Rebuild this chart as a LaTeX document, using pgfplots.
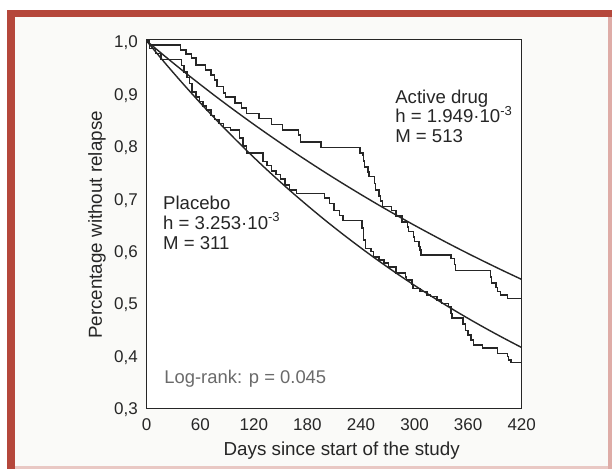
\documentclass[border=0pt]{standalone}
\usepackage{pgfplots}
\pgfplotsset{compat=1.18}
\usepackage{fontspec}
\setmainfont{Liberation Sans}
\definecolor{frame}{HTML}{B5473B}
\definecolor{bg}{HTML}{FAFAF8}
\definecolor{ink}{HTML}{262626}
\definecolor{note}{HTML}{6A6A6A}

\pgfplotstableread{
t v
0 1.000
3 0.992
38 0.983
44 0.975
50 0.968
55 0.954
66 0.945
72 0.935
76 0.926
79 0.913
86 0.901
88 0.893
99 0.882
106 0.872
112 0.862
126 0.852
140 0.841
152 0.830
170 0.821
172 0.807
195 0.797
239 0.786
242 0.782
243 0.771
244 0.760
248 0.750
249 0.741
255 0.728
256 0.716
260 0.704
262 0.695
264 0.684
274 0.677
279 0.666
286 0.655
292 0.645
293 0.636
299 0.626
300 0.617
305 0.608
306 0.601
307 0.592
341 0.585
345 0.573
346 0.562
385 0.550
386 0.538
391 0.530
393 0.522
396 0.515
404 0.509
420 0.509
}\activekm

\pgfplotstableread{
t v
0 1.000
3 0.986
10 0.976
16 0.965
39 0.953
42 0.941
45 0.930
48 0.919
51 0.903
55 0.893
59 0.885
63 0.876
67 0.868
72 0.858
76 0.850
81 0.843
86 0.835
94 0.830
104 0.815
108 0.800
112 0.786
130 0.770
135 0.762
140 0.752
145 0.745
150 0.737
155 0.725
160 0.716
168 0.709
199 0.700
205 0.690
210 0.677
216 0.667
220 0.657
241 0.643
243 0.620
245 0.604
251 0.598
254 0.588
260 0.582
266 0.576
271 0.569
279 0.557
290 0.550
291 0.544
297 0.535
298 0.528
306 0.522
314 0.515
318 0.512
325 0.506
330 0.499
338 0.493
341 0.480
342 0.471
354 0.460
357 0.448
360 0.439
363 0.429
366 0.420
376 0.414
393 0.404
404 0.398
405 0.391
408 0.386
420 0.386
}\placebokm

\pgfplotstableread{
t v
0 1.000
20 0.9715
40 0.9438
60 0.9170
80 0.8908
100 0.8655
120 0.8408
140 0.8169
160 0.7936
180 0.7710
200 0.7490
220 0.7277
240 0.7070
260 0.6868
280 0.6673
300 0.6482
320 0.6298
340 0.6118
360 0.5944
380 0.5775
400 0.5610
420 0.5450
}\activefit

\pgfplotstableread{
t v
0 1.000
20 0.9590
40 0.9197
60 0.8819
80 0.8458
100 0.8111
120 0.7778
140 0.7459
160 0.7153
180 0.6860
200 0.6578
220 0.6309
240 0.6050
260 0.5802
280 0.5564
300 0.5336
320 0.5117
340 0.4907
360 0.4706
380 0.4513
400 0.4328
420 0.4150
}\placebofit

\begin{document}
\begin{tikzpicture}
\useasboundingbox (0pt,0pt) rectangle (306pt,234.5pt);
\fill[white] (0pt,0pt) rectangle (306pt,234.5pt);
\fill[bg] (7.5pt,0pt) rectangle (304pt,226pt);
\fill[frame] (3.5pt,226pt) rectangle (306pt,229.5pt);
\fill[frame] (3.5pt,0pt) rectangle (7.5pt,229.5pt);
\fill[frame!45] (304pt,0pt) rectangle (306pt,226pt);
\fill[frame!30] (7.5pt,0pt) rectangle (304pt,1.5pt);
\begin{axis}[
  at={(73.35pt,30.25pt)}, anchor=south west, scale only axis,
  width=187.5pt, height=184.4pt,
  xmin=0, xmax=420, ymin=0.2987, ymax=1.0025,
  axis background/.style={fill=white},
  xtick={0,60,120,180,240,300,360,420},
  ytick={0.3,0.4,0.5,0.6,0.7,0.8,0.9,1.0},
  /pgf/number format/assume math mode=true,
  major tick length=0pt,
  axis line style={ink, line width=0.65pt},
  tick label style={font=\fontsize{8.5}{10}\selectfont, text=ink},
  xticklabel style={yshift=-1.6pt},
  yticklabel style={xshift=-0.9pt, yshift=-1pt,
    /pgf/number format/use comma, /pgf/number format/fixed,
    /pgf/number format/fixed zerofill, /pgf/number format/precision=1},
  xlabel={Days since start of the study},
  ylabel={Percentage without relapse},
  label style={font=\fontsize{9.4}{11}\selectfont, text=ink},
  xlabel style={at={(axis description cs:0.52,-0.1288)}, anchor=base},
  ylabel style={at={(axis description cs:-0.1325,0.4976)}, anchor=center},
  clip=false,
]
\addplot[const plot, ink, line width=0.75pt] table[x=t,y=v] {\activekm};
\addplot[const plot, ink, line width=0.75pt] table[x=t,y=v] {\placebokm};
\addplot[smooth, ink, line width=0.7pt] table[x=t,y=v] {\activefit};
\addplot[smooth, ink, line width=0.7pt] table[x=t,y=v] {\placebofit};

\node[anchor=base west, inner sep=0, font=\fontsize{9.3}{11}\selectfont, text=ink] at (axis cs:278,0.880) {Active drug};
\node[anchor=base west, inner sep=0, font=\fontsize{9.3}{11}\selectfont, text=ink] at (axis cs:278,0.844) {h = 1.949·10\textsuperscript{-3}};
\node[anchor=base west, inner sep=0, font=\fontsize{9.3}{11}\selectfont, text=ink] at (axis cs:278,0.806) {M = 513};

\node[anchor=base west, inner sep=0, font=\fontsize{9.3}{11}\selectfont, text=ink] at (axis cs:18,0.679) {Placebo};
\node[anchor=base west, inner sep=0, font=\fontsize{9.3}{11}\selectfont, text=ink] at (axis cs:18,0.641) {h = 3.253·10\textsuperscript{-3}};
\node[anchor=base west, inner sep=0, font=\fontsize{9.3}{11}\selectfont, text=ink] at (axis cs:18,0.602) {M = 311};

\node[anchor=base west, inner sep=0, font=\fontsize{9.2}{11}\selectfont, text=note] at (axis cs:19.4,0.347) {Log-rank: p = 0.045};
\end{axis}
\end{tikzpicture}
\end{document}
